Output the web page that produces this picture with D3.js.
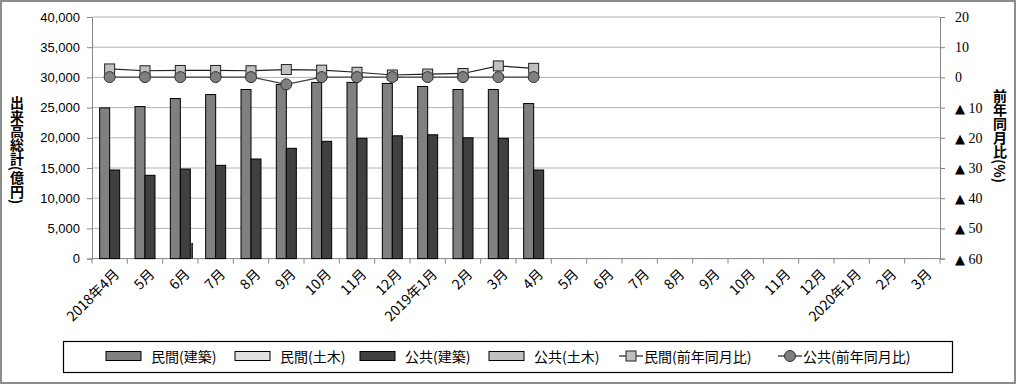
<!DOCTYPE html>
<html>
<head>
<meta charset="utf-8">
<script src="https://cdn.jsdelivr.net/npm/d3@7"></script>
<style>
  html, body { margin: 0; padding: 0; background: #fff; }
  svg { display: block; }
  .vt { writing-mode: vertical-rl; text-orientation: mixed; }
</style>
</head>
<body>
<script>
// months on the x axis (24 slots, only first 13 have data)
const months = ["2018年4月","5月","6月","7月","8月","9月","10月","11月","12月","2019年1月","2月","3月","4月",
                "5月","6月","7月","8月","9月","10月","11月","12月","2020年1月","2月","3月"];
// 出来高 (億円)
const minkanKenchiku = [24950, 25170, 26500, 27160, 28000, 28830, 29170, 29170, 29000, 28500, 28000, 28000, 25670];
const kokyoKenchiku  = [14670, 13790, 14830, 15440, 16490, 18260, 19420, 19920, 20330, 20500, 20000, 19920, 14670];
// 前年同月比 (%)
const minkanYoY = [2.8, 2.2, 2.3, 2.3, 2.2, 2.6, 2.4, 1.7, 0.8, 1.1, 1.3, 3.8, 3.0];
const kokyoYoY  = [0.1, 0.1, 0.1, 0.1, 0.1, -2.3, 0.1, 0.1, 0.1, 0.1, 0.1, 0.1, 0.1];
// odd thin sliver that shows in the original next to 6月
const sliver = [{i: 2, v: 2600}];

const leftTicks = d3.range(0, 40001, 5000);
const rightTicks = [20, 10, 0, -10, -20, -30, -40, -50, -60];

const W = 1016, H = 384;
const svg = d3.select("body").append("svg").attr("width", W).attr("height", H);

const JP = "'Noto Sans CJK JP','Noto Sans',sans-serif";
const NUM = "'Liberation Sans','DejaVu Sans',sans-serif";
const SERIF = "'Liberation Serif','DejaVu Serif',serif";

svg.append("rect").attr("x", 1).attr("y", 1).attr("width", W - 2).attr("height", H - 2)
  .attr("fill", "#fff").attr("stroke", "#8c8c8c").attr("stroke-width", 2);

const plot = {left: 92, right: 940, top: 17, bottom: 258.6};

const x = d3.scaleBand().domain(d3.range(months.length)).range([plot.left, plot.right]);
const y = d3.scaleLinear().domain([0, 40000]).range([plot.bottom, plot.top]);
const y2 = d3.scaleLinear().domain([-60, 20]).range([plot.bottom, plot.top]);

// grid
svg.append("g").selectAll("line").data(leftTicks.slice(1)).join("line")
  .attr("x1", plot.left).attr("x2", plot.right)
  .attr("y1", d => y(d)).attr("y2", d => y(d))
  .attr("stroke", "#b4b4b4").attr("stroke-width", 1);

// left axis
const gl = svg.append("g").attr("transform", `translate(${plot.left},0)`)
  .call(d3.axisLeft(y).tickValues(leftTicks).tickSize(5).tickPadding(7).tickFormat(d3.format(",")));
gl.select(".domain").attr("stroke", "#868686");
gl.selectAll(".tick line").attr("stroke", "#868686");
gl.selectAll("text").attr("font-family", NUM).attr("font-size", 13).attr("fill", "#000");

// right axis
const gr = svg.append("g").attr("transform", `translate(${plot.right},0)`)
  .call(d3.axisRight(y2).tickValues(rightTicks).tickSize(5).tickPadding(10).tickFormat(""));
gr.select(".domain").attr("stroke", "#868686");
gr.selectAll(".tick line").attr("stroke", "#868686");
gr.selectAll(".tick text").each(function(d) {
  const t = d3.select(this).attr("font-family", SERIF).attr("font-size", 14).attr("fill", "#000");
  if (d < 0) {
    t.append("tspan").attr("font-family", "'DejaVu Sans',sans-serif").attr("font-size", 13).text("▲");
    t.append("tspan").text(" " + (-d));
  } else {
    t.text(d);
  }
});

// x axis
const gx = svg.append("g").attr("transform", `translate(0,${plot.bottom})`);
gx.append("line").attr("x1", plot.left).attr("x2", plot.right)
  .attr("stroke", "#868686");
gx.selectAll("line.tk").data(d3.range(months.length + 1)).join("line").attr("class", "tk")
  .attr("x1", i => plot.left + i * x.step()).attr("x2", i => plot.left + i * x.step())
  .attr("y1", 0).attr("y2", 5).attr("stroke", "#868686");
gx.selectAll("text").data(months).join("text")
  .attr("transform", (d, i) => `translate(${x(i) + x.bandwidth() / 2 + 3},9) rotate(-45)`)
  .attr("text-anchor", "end").attr("dy", "0.75em")
  .attr("font-family", JP).attr("font-size", 14).text(d => d);

// bars
const bw = 10;
const barG = svg.append("g");
barG.selectAll("rect.mk").data(minkanKenchiku).join("rect").attr("class", "mk")
  .attr("x", (d, i) => x(i) + x.bandwidth() / 2 - bw).attr("width", bw)
  .attr("y", d => y(d)).attr("height", d => y(0) - y(d))
  .attr("fill", "#808080").attr("stroke", "#000").attr("stroke-width", 1);
barG.selectAll("rect.kk").data(kokyoKenchiku).join("rect").attr("class", "kk")
  .attr("x", (d, i) => x(i) + x.bandwidth() / 2).attr("width", bw)
  .attr("y", d => y(d)).attr("height", d => y(0) - y(d))
  .attr("fill", "#404040").attr("stroke", "#000").attr("stroke-width", 1);
barG.selectAll("rect.sl").data(sliver).join("rect").attr("class", "sl")
  .attr("x", d => x(d.i) + x.bandwidth() / 2 + bw + 1).attr("width", 1.5)
  .attr("y", d => y(d.v)).attr("height", d => y(0) - y(d.v)).attr("fill", "#000");

// lines
const cx = (d, i) => x(i) + x.bandwidth() / 2;
const line = d3.line().x(cx).y(d => y2(d));
svg.append("path").datum(minkanYoY).attr("d", line)
  .attr("fill", "none").attr("stroke", "#202020").attr("stroke-width", 1.2);
svg.append("path").datum(kokyoYoY).attr("d", line)
  .attr("fill", "none").attr("stroke", "#404040").attr("stroke-width", 1.2);
svg.append("g").selectAll("rect").data(minkanYoY).join("rect")
  .attr("x", (d, i) => cx(d, i) - 5).attr("y", d => y2(d) - 5)
  .attr("width", 10).attr("height", 10)
  .attr("fill", "#c0c0c0").attr("stroke", "#202020").attr("stroke-width", 1);
svg.append("g").selectAll("circle").data(kokyoYoY).join("circle")
  .attr("cx", cx).attr("cy", d => y2(d)).attr("r", 5.5)
  .attr("fill", "#808080").attr("stroke", "#303030").attr("stroke-width", 1);

// axis titles (vertical)
svg.append("text").attr("class", "vt").attr("x", 17).attr("y", 150)
  .attr("text-anchor", "middle").attr("font-family", JP).attr("font-size", 14)
  .attr("font-weight", "bold").text("出来高総計(億円)");
svg.append("text").attr("class", "vt").attr("x", 1000).attr("y", 136)
  .attr("text-anchor", "middle").attr("font-family", JP).attr("font-size", 14)
  .attr("font-weight", "bold").text("前年同月比(%)");

// legend
const leg = svg.append("g");
leg.append("rect").attr("x", 63.5).attr("y", 341.5).attr("width", 889).attr("height", 31)
  .attr("fill", "#fff").attr("stroke", "#000").attr("stroke-width", 1.2);
const legItems = [
  {name: "民間(建築)", type: "bar", fill: "#808080", x: 106},
  {name: "民間(土木)", type: "bar", fill: "#e0e0e0", x: 235},
  {name: "公共(建築)", type: "bar", fill: "#404040", x: 360},
  {name: "公共(土木)", type: "bar", fill: "#c0c0c0", x: 489},
  {name: "民間(前年同月比)", type: "sq", x: 619},
  {name: "公共(前年同月比)", type: "ci", x: 778}
];
const ly = 356;
legItems.forEach(it => {
  let tx;
  if (it.type === "bar") {
    leg.append("rect").attr("x", it.x).attr("y", ly - 4.5).attr("width", 35).attr("height", 9)
      .attr("fill", it.fill).attr("stroke", "#000").attr("stroke-width", 1);
    tx = it.x + 45;
  } else {
    leg.append("line").attr("x1", it.x).attr("x2", it.x + 24).attr("y1", ly).attr("y2", ly)
      .attr("stroke", "#202020").attr("stroke-width", 1.2);
    if (it.type === "sq") {
      leg.append("rect").attr("x", it.x + 7).attr("y", ly - 5).attr("width", 10).attr("height", 10)
        .attr("fill", "#c0c0c0").attr("stroke", "#202020");
    } else {
      leg.append("circle").attr("cx", it.x + 12).attr("cy", ly).attr("r", 5.5)
        .attr("fill", "#808080").attr("stroke", "#303030");
    }
    tx = it.x + 25;
  }
  leg.append("text").attr("x", tx).attr("y", ly).attr("dominant-baseline", "central")
    .attr("font-family", JP).attr("font-size", 14).text(it.name);
});
</script>
</body>
</html>
